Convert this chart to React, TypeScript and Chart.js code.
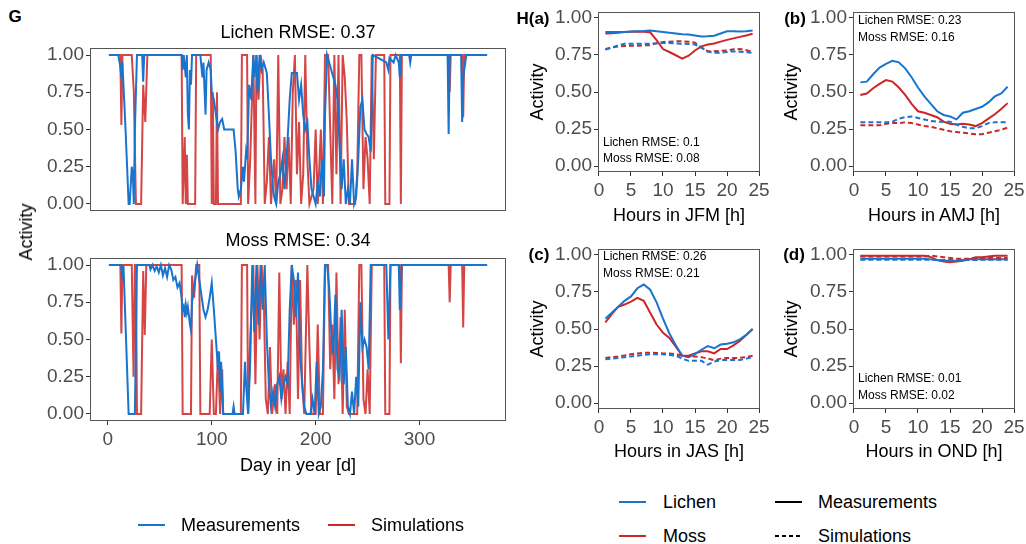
import React, { useEffect, useRef } from "react";
import { Chart, registerables } from "chart.js";
Chart.register(...registerables);

const FONT = "'Liberation Sans', Arial, Helvetica, sans-serif";
const BLUE = "#1874CD";
const RED = "#CD2626";
const RED_A = "rgba(205,38,38,0.85)";
const TICK_COLOR = "#4d4d4d";

// ---------- tick labels ----------
const activityTicks = [0, 0.25, 0.5, 0.75, 1];
const dayTicks = [0, 100, 200, 300];
const hourTicks = [0, 5, 10, 15, 20, 25];
const hours = [1, 2, 3, 4, 5, 6, 7, 8, 9, 10, 11, 12, 13, 14, 15, 16, 17, 18, 19, 20, 21, 22, 23, 24];

// ---------- daily series (G) : [day, activity] ----------
const lichenMeas: [number, number][] = [
  [1, 1], [10, 1], [12, 0.92], [13, 0.85], [14, 0.95], [15, 0.8], [17, 0.5], [20, 0], [21, 0], [23, 0.25], [24, 0.2], [25, 0], [26, 0.5], [28, 1],
  [33, 1], [34, 0.82], [35, 1], [71, 1], [72, 0.9], [73, 1], [75, 0.85], [76, 1], [77, 0.6], [78, 0.5], [79, 0.9], [80, 0.8], [81, 1], [89, 1],
  [91, 0.85], [92, 0.95], [94, 0.6], [95, 0.9], [97, 0.95], [99, 0.9], [100, 0.75], [102, 0.7], [104, 0.6], [106, 0.5], [108, 0.55], [110, 0.57],
  [112, 0.5], [121, 0.5], [123, 0.35], [125, 0.1], [126, 0.05], [128, 0.1], [130, 0.25], [131, 0.15], [133, 0.35], [134, 0.3], [136, 0.8],
  [138, 0.7], [140, 1], [141, 0.85], [143, 1], [144, 0.75], [146, 1], [148, 0.9], [150, 0.95], [153, 0.88], [155, 0.6], [157, 0.3], [159, 0.1],
  [160, 0.05], [162, 0.0], [164, 0.15], [166, 0.2], [168, 0.3], [170, 0.1], [172, 0.3], [175, 0.7], [177, 0.88], [179, 0.88], [182, 0.88],
  [184, 0.7], [186, 0.8], [188, 0.6], [190, 0.5], [192, 0.55], [194, 0.3], [196, 0.1], [198, 0.05], [200, 0.0], [202, 0.15], [204, 0.05],
  [206, 0.3], [208, 0.05], [209, 0.6], [211, 1], [213, 0.95], [215, 0.9], [217, 0.85], [219, 0.8], [221, 0.7], [223, 0.4], [225, 0.1],
  [227, 0.3], [229, 0.0], [231, 0.1], [233, 0.0], [235, 0.3], [237, 0.0], [239, 0.05], [241, 0.3], [243, 0.65], [245, 0.7], [247, 0.5],
  [249, 0.47], [251, 0.45], [253, 0.35], [255, 1], [268, 0.95], [270, 0.9], [271, 0.98], [275, 0.95], [277, 1], [280, 0.95], [281, 0.85],
  [282, 1], [290, 1], [291, 0.95], [292, 1], [327, 1], [328, 0.47], [329, 1], [340, 1], [341, 0.55], [342, 0.85], [344, 0.95], [345, 1], [365, 1],
];
const lichenSim: [number, number][] = [
  [1, 1], [12, 1], [13, 0.53], [14, 1], [23, 1], [25, 0.75], [27, 0], [32, 0], [34, 0.8], [36, 0.55], [38, 1], [71, 1], [72, 0], [74, 0.45],
  [75, 0], [76, 0.33], [77, 0], [84, 0], [85, 1], [99, 1], [100, 0], [101, 0.75], [102, 0], [104, 0], [105, 0.75], [106, 0], [128, 0],
  [129, 1], [134, 1], [135, 0], [137, 0.3], [140, 1], [142, 0], [143, 1], [145, 0.7], [147, 1], [149, 0.9], [151, 0], [153, 0.15], [155, 0.45],
  [157, 0.0], [160, 0.3], [162, 0], [164, 1], [166, 0], [168, 0.1], [170, 0.45], [172, 0.1], [174, 0.45], [176, 0], [178, 0.75], [180, 1],
  [182, 0.2], [184, 0.55], [186, 0], [188, 0.2], [190, 1], [192, 0.3], [194, 0], [198, 0.1], [200, 0.5], [202, 0], [205, 0.5], [207, 0],
  [209, 1], [212, 1], [214, 0.5], [216, 0], [218, 1], [220, 0.2], [222, 1], [224, 0], [226, 1], [228, 0.85], [230, 0.55], [232, 0], [238, 0],
  [240, 0.2], [242, 1], [244, 1], [246, 0.1], [248, 0.45], [250, 0.3], [252, 0], [254, 1], [256, 0.3], [258, 1], [266, 1], [267, 0], [271, 0],
  [272, 1], [281, 1], [282, 0], [283, 1], [328, 1], [329, 0.75], [330, 1], [341, 1], [342, 0.58], [343, 1], [365, 1],
];
const mossMeas: [number, number][] = [
  [1, 1], [13, 1], [14, 0.9], [15, 1], [17, 0.6], [20, 0], [26, 0], [28, 1], [40, 1], [41, 0.97], [43, 1], [45, 0.96], [47, 0.99], [49, 0.95],
  [51, 1], [53, 0.93], [55, 0.98], [57, 0.92], [59, 1], [61, 0.97], [63, 0.9], [65, 0.92], [67, 0.85], [69, 0.88], [71, 0.78], [72, 0.7],
  [73, 0.72], [74, 0.65], [75, 0.73], [76, 0.68], [77, 0.72], [79, 0.6], [80, 0.56], [81, 0.75], [83, 0.85], [86, 1], [88, 0.9], [90, 0.8],
  [92, 0.7], [94, 0.65], [96, 0.7], [98, 0.78], [100, 0.88], [102, 0.7], [104, 0.5], [106, 0.3], [107, 0.42], [108, 0.15], [109, 0.35],
  [111, 0], [120, 0], [121, 0.05], [122, 0], [130, 0], [132, 0.35], [133, 0.2], [135, 0], [137, 0.35], [139, 1], [141, 0.55], [143, 1],
  [145, 0.6], [147, 1], [149, 0.7], [151, 1], [153, 0.5], [155, 0.2], [157, 0.05], [159, 0.15], [161, 0.05], [163, 0.2], [165, 0.25],
  [167, 0.1], [169, 0.2], [171, 0.25], [173, 0.2], [175, 0.7], [177, 1], [179, 0.9], [181, 0.65], [183, 0.95], [185, 0.4], [187, 0.2],
  [189, 0.05], [191, 0], [195, 0], [197, 0.1], [199, 0], [201, 0.35], [203, 0], [205, 0.05], [207, 0.3], [209, 1], [211, 1], [213, 0.85],
  [215, 0.55], [217, 0.4], [219, 0.8], [221, 0.3], [223, 0.25], [225, 0.7], [227, 0.2], [229, 0.45], [231, 0.05], [233, 0.0], [235, 0.15],
  [237, 0], [239, 0.25], [241, 0.05], [243, 0.75], [245, 0.45], [247, 0.5], [249, 0.45], [251, 0.3], [253, 1], [268, 1], [270, 0.5],
  [272, 1], [280, 1], [281, 0.7], [283, 1], [365, 1],
];
const mossSim: [number, number][] = [
  [1, 1], [12, 1], [13, 0.54], [14, 1], [23, 1], [24.7, 0.25], [26, 1], [27, 1], [28, 0], [32, 0], [34, 0.96], [35.5, 0.53], [37, 1],
  [71, 1], [72, 0], [80, 0], [81, 0.93], [83, 0.78], [85, 1], [88, 1], [89, 0], [98, 0], [100, 0.5], [102, 0], [104, 0], [106, 0.42],
  [108, 0], [110, 0.3], [111, 0], [128, 0], [129, 1], [134, 1], [135, 0], [137, 0.5], [140, 1], [142, 0.2], [144, 1], [146, 0.5], [148, 1],
  [150, 0.8], [152, 0.1], [154, 0], [156, 0.45], [158, 0], [161, 0.2], [163, 0], [165, 0.95], [167, 0.1], [169, 0.3], [171, 0], [173, 0.35],
  [175, 0], [177, 1], [179, 0.6], [181, 0.9], [183, 0.1], [185, 0.9], [187, 0.2], [189, 0], [192, 1], [194, 0.45], [196, 0], [200, 0],
  [202, 0.6], [204, 0], [207, 0], [209, 1], [212, 1], [214, 0.3], [216, 0.6], [218, 0.1], [220, 0.95], [222, 0.2], [224, 0.65], [226, 0],
  [228, 0.7], [230, 0.05], [232, 0], [240, 0], [242, 1], [244, 1], [246, 0.1], [248, 0], [250, 0.3], [252, 0], [254, 1], [266, 1], [267, 0],
  [271, 0], [272, 1], [281, 1], [282, 0.34], [283, 1], [328, 1], [329, 0.75], [330, 1], [341, 1], [342, 0.58], [343, 1], [365, 1],
];

// ---------- hourly series (H) ----------
const lichenMeasJFM = [0.905, 0.905, 0.905, 0.905, 0.908, 0.91, 0.912, 0.915, 0.91, 0.905, 0.9, 0.895, 0.89, 0.888, 0.882, 0.875, 0.877, 0.88, 0.895, 0.91, 0.91, 0.908, 0.91, 0.915];
const mossMeasJFM = [0.895, 0.897, 0.9, 0.905, 0.907, 0.908, 0.907, 0.903, 0.85, 0.79, 0.77, 0.748, 0.725, 0.745, 0.78, 0.808, 0.82, 0.828, 0.84, 0.852, 0.862, 0.872, 0.882, 0.893];
const lichenSimJFM = [0.79, 0.8, 0.815, 0.825, 0.825, 0.825, 0.825, 0.826, 0.828, 0.83, 0.83, 0.828, 0.826, 0.824, 0.82, 0.8, 0.772, 0.765, 0.765, 0.77, 0.775, 0.772, 0.768, 0.765];
const mossSimJFM = [0.787, 0.8, 0.808, 0.81, 0.812, 0.812, 0.815, 0.815, 0.83, 0.838, 0.84, 0.842, 0.842, 0.84, 0.832, 0.8, 0.775, 0.775, 0.778, 0.78, 0.788, 0.79, 0.782, 0.772];

const lichenMeasAMJ = [0.565, 0.57, 0.62, 0.665, 0.69, 0.71, 0.7, 0.66, 0.6, 0.53, 0.47, 0.42, 0.37, 0.345, 0.335, 0.315, 0.36, 0.37, 0.385, 0.4, 0.43, 0.47, 0.49, 0.535];
const mossMeasAMJ = [0.48, 0.49, 0.525, 0.555, 0.58, 0.57, 0.53, 0.48, 0.42, 0.37, 0.36, 0.345, 0.33, 0.3, 0.285, 0.28, 0.285, 0.28, 0.27, 0.29, 0.32, 0.35, 0.385, 0.425];
const lichenSimAMJ = [0.295, 0.295, 0.295, 0.295, 0.295, 0.3, 0.32, 0.33, 0.335, 0.325, 0.315, 0.305, 0.3, 0.3, 0.3, 0.28, 0.265, 0.255, 0.255, 0.27, 0.29, 0.295, 0.295, 0.295];
const mossSimAMJ = [0.275, 0.275, 0.275, 0.275, 0.285, 0.29, 0.29, 0.295, 0.29, 0.28, 0.27, 0.265, 0.255, 0.245, 0.235, 0.23, 0.225, 0.22, 0.215, 0.215, 0.225, 0.235, 0.245, 0.26];

const lichenMeasJAS = [0.57, 0.61, 0.65, 0.69, 0.72, 0.775, 0.8, 0.765, 0.68, 0.57, 0.47, 0.39, 0.32, 0.31, 0.33, 0.36, 0.385, 0.37, 0.395, 0.4, 0.41, 0.43, 0.46, 0.5];
const mossMeasJAS = [0.545, 0.6, 0.65, 0.665, 0.685, 0.71, 0.69, 0.61, 0.53, 0.475, 0.44, 0.38, 0.32, 0.32, 0.335, 0.35, 0.35, 0.335, 0.365, 0.365, 0.39, 0.42, 0.46, 0.5];
const lichenSimJAS = [0.295, 0.3, 0.305, 0.31, 0.315, 0.32, 0.325, 0.33, 0.33, 0.33, 0.325, 0.32, 0.3, 0.285, 0.285, 0.285, 0.26, 0.28, 0.29, 0.29, 0.29, 0.29, 0.3, 0.31];
const mossSimJAS = [0.305, 0.31, 0.315, 0.322, 0.33, 0.335, 0.34, 0.34, 0.338, 0.335, 0.335, 0.33, 0.32, 0.315, 0.315, 0.31, 0.3, 0.29, 0.3, 0.305, 0.305, 0.305, 0.31, 0.32];

const lichenMeasOND = [0.975, 0.975, 0.975, 0.975, 0.975, 0.975, 0.975, 0.975, 0.975, 0.975, 0.975, 0.97, 0.965, 0.96, 0.96, 0.96, 0.965, 0.97, 0.97, 0.97, 0.97, 0.97, 0.97, 0.97];
const mossMeasOND = [0.995, 0.995, 0.995, 0.995, 0.995, 0.995, 0.995, 0.995, 0.995, 0.995, 0.995, 0.985, 0.965, 0.955, 0.95, 0.955, 0.96, 0.97, 0.985, 0.985, 0.99, 0.995, 0.995, 0.995];
const lichenSimOND = [0.968, 0.968, 0.968, 0.968, 0.968, 0.968, 0.968, 0.968, 0.968, 0.968, 0.968, 0.968, 0.965, 0.965, 0.965, 0.965, 0.965, 0.965, 0.965, 0.968, 0.968, 0.968, 0.968, 0.968];
const mossSimOND = [0.99, 0.99, 0.99, 0.99, 0.99, 0.99, 0.99, 0.99, 0.99, 0.99, 0.99, 0.995, 0.99, 0.985, 0.98, 0.975, 0.975, 0.975, 0.98, 0.98, 0.98, 0.98, 0.98, 0.98];

// ---------- layout ----------
type Box = { x: number; y: number; w: number; h: number };
type Pad = { l: number; r: number; t: number; b: number };

const boxPlugin = {
  id: "panelBox",
  afterDatasetsDraw(chart: any) {
    const { ctx, chartArea: a } = chart;
    ctx.save();
    ctx.strokeStyle = "#555555";
    ctx.lineWidth = 1;
    ctx.strokeRect(a.left + 0.5, a.top + 0.5, a.right - a.left - 1, a.bottom - a.top - 1);
    ctx.restore();
  },
};

function makeX(min: number, max: number, ticks: number[], show: boolean, padB: number) {
  return {
    type: "linear",
    min,
    max,
    afterBuildTicks: (s: any) => {
      s.ticks = ticks.map((v) => ({ value: v }));
    },
    afterFit: (s: any) => {
      s.height = padB;
    },
    grid: { display: show, drawOnChartArea: false, drawTicks: true, tickLength: 4, color: "#333333", lineWidth: 1 },
    border: { display: false },
    ticks: {
      display: show,
      autoSkip: false,
      maxRotation: 0,
      padding: 3,
      color: TICK_COLOR,
      font: { family: FONT, size: 19 },
      callback: (v: any) => String(v),
    },
  };
}

function makeY(min: number, max: number, padL: number) {
  return {
    type: "linear",
    min,
    max,
    afterBuildTicks: (s: any) => {
      s.ticks = activityTicks.map((v) => ({ value: v }));
    },
    afterFit: (s: any) => {
      s.width = padL;
    },
    grid: { display: true, drawOnChartArea: false, drawTicks: true, tickLength: 4, color: "#333333", lineWidth: 1 },
    border: { display: false },
    ticks: {
      padding: 2,
      color: TICK_COLOR,
      font: { family: FONT, size: 19 },
      callback: (v: any) => Number(v).toFixed(2),
    },
  };
}

function PanelChart({ box, pad, config }: { box: Box; pad: Pad; config: () => any }) {
  const ref = useRef<HTMLCanvasElement>(null);
  useEffect(() => {
    const chart = new Chart(ref.current as HTMLCanvasElement, config());
    return () => chart.destroy();
  }, []);
  const W = box.w + pad.l + pad.r;
  const H = box.h + pad.t + pad.b;
  return (
    <canvas
      ref={ref}
      width={W}
      height={H}
      style={{ position: "absolute", left: box.x - pad.l, top: box.y - pad.t, width: W, height: H }}
    />
  );
}

function dailyConfig(meas: [number, number][], sim: [number, number][], showX: boolean, pad: Pad) {
  return () => ({
    type: "line",
    data: {
      datasets: [
        { label: "Measurements", data: meas.map(([x, y]) => ({ x, y })), borderColor: BLUE, borderWidth: 2, pointRadius: 0, tension: 0 },
        { label: "Simulations", data: sim.map(([x, y]) => ({ x, y })), borderColor: RED_A, borderWidth: 2, pointRadius: 0, tension: 0 },
      ],
    },
    options: {
      animation: false,
      responsive: false,
      events: [],
      layout: { padding: { top: pad.t, right: pad.r, left: 0, bottom: 0 } },
      plugins: { legend: { display: false }, tooltip: { enabled: false }, title: { display: false } },
      scales: {
        x: makeX(-17.2, 383.2, dayTicks, showX, pad.b),
        y: makeY(-0.047, 1.047, pad.l),
      },
    },
    plugins: [boxPlugin],
  });
}

function hourlyConfig(lm: number[], mm: number[], ls: number[], ms: number[], pad: Pad) {
  const pts = (arr: number[]) => arr.map((v, i) => ({ x: hours[i], y: v }));
  const common = { pointRadius: 0, tension: 0, borderWidth: 2 };
  return () => ({
    type: "line",
    data: {
      datasets: [
        { label: "Lichen sim", data: pts(ls), borderColor: BLUE, borderDash: [5, 3], ...common },
        { label: "Moss sim", data: pts(ms), borderColor: RED, borderDash: [5, 3], ...common },
        { label: "Lichen meas", data: pts(lm), borderColor: BLUE, ...common },
        { label: "Moss meas", data: pts(mm), borderColor: RED, ...common },
      ],
    },
    options: {
      animation: false,
      responsive: false,
      events: [],
      layout: { padding: { top: pad.t, right: pad.r, left: 0, bottom: 0 } },
      plugins: { legend: { display: false }, tooltip: { enabled: false }, title: { display: false } },
      scales: {
        x: makeX(-0.15, 25.15, hourTicks, true, pad.b),
        y: makeY(-0.04, 1.04, pad.l),
      },
    },
    plugins: [boxPlugin],
  });
}

function Txt(props: {
  x: number; y: number; children: React.ReactNode; size?: number; weight?: string | number;
  anchor?: "start" | "middle"; rotate?: number; color?: string;
}) {
  const { x, y, children, size = 18, weight = "normal", anchor = "middle", rotate = 0, color = "#000" } = props;
  const tx = anchor === "start" ? "0" : "-50%";
  return (
    <div
      style={{
        position: "absolute",
        left: x,
        top: y,
        transform: `translate(${tx},-50%)${rotate ? ` rotate(${rotate}deg)` : ""}`,
        fontSize: size,
        fontWeight: weight as any,
        fontFamily: FONT,
        color,
        whiteSpace: "nowrap",
        lineHeight: 1,
      }}
    >
      {children}
    </div>
  );
}

function Key({ x, y, color, dashed }: { x: number; y: number; color: string; dashed?: boolean }) {
  return (
    <div
      style={{
        position: "absolute",
        left: x,
        top: y - 1.25,
        width: 27,
        height: 2.5,
        background: dashed ? `repeating-linear-gradient(to right, ${color} 0 4px, transparent 4px 7px)` : color,
      }}
    />
  );
}

const leftPad: Pad = { l: 60, r: 24, t: 14, b: 40 };
const rightPad: Pad = { l: 55, r: 14, t: 14, b: 40 };

const boxG1: Box = { x: 90, y: 48, w: 416, h: 163 };
const boxG2: Box = { x: 90, y: 258, w: 416, h: 163 };
const boxA: Box = { x: 598, y: 12, w: 162, h: 160 };
const boxB: Box = { x: 853, y: 12, w: 162, h: 160 };
const boxC: Box = { x: 598, y: 249, w: 162, h: 160 };
const boxD: Box = { x: 853, y: 249, w: 162, h: 160 };

export default function App() {
  return (
    <div style={{ position: "fixed", left: 0, top: 0, width: 1026, height: 544, background: "#fff", overflow: "hidden" }}>
      <PanelChart box={boxG1} pad={leftPad} config={dailyConfig(lichenMeas, lichenSim, false, leftPad)} />
      <PanelChart box={boxG2} pad={leftPad} config={dailyConfig(mossMeas, mossSim, true, leftPad)} />
      <PanelChart box={boxA} pad={rightPad} config={hourlyConfig(lichenMeasJFM, mossMeasJFM, lichenSimJFM, mossSimJFM, rightPad)} />
      <PanelChart box={boxB} pad={rightPad} config={hourlyConfig(lichenMeasAMJ, mossMeasAMJ, lichenSimAMJ, mossSimAMJ, rightPad)} />
      <PanelChart box={boxC} pad={rightPad} config={hourlyConfig(lichenMeasJAS, mossMeasJAS, lichenSimJAS, mossSimJAS, rightPad)} />
      <PanelChart box={boxD} pad={rightPad} config={hourlyConfig(lichenMeasOND, mossMeasOND, lichenSimOND, mossSimOND, rightPad)} />

      {/* G panel texts */}
      <Txt x={15} y={16} size={17} weight="bold">G</Txt>
      <Txt x={298} y={32}>Lichen RMSE: 0.37</Txt>
      <Txt x={298} y={240}>Moss RMSE: 0.34</Txt>
      <Txt x={26} y={232} rotate={-90}>Activity</Txt>
      <Txt x={298} y={465}>Day in year [d]</Txt>

      {/* H panel texts */}
      <Txt x={533} y={18} size={17} weight="bold">H(a)</Txt>
      <Txt x={795} y={18} size={17} weight="bold">(b)</Txt>
      <Txt x={539} y={254} size={17} weight="bold">(c)</Txt>
      <Txt x={794} y={254} size={17} weight="bold">(d)</Txt>
      <Txt x={537} y={92} rotate={-90}>Activity</Txt>
      <Txt x={791} y={92} rotate={-90}>Activity</Txt>
      <Txt x={537} y={329} rotate={-90}>Activity</Txt>
      <Txt x={791} y={329} rotate={-90}>Activity</Txt>
      <Txt x={679} y={215}>Hours in JFM [h]</Txt>
      <Txt x={934} y={215}>Hours in AMJ [h]</Txt>
      <Txt x={679} y={451}>Hours in JAS [h]</Txt>
      <Txt x={934} y={451}>Hours in OND [h]</Txt>

      <Txt x={603} y={142} size={12} anchor="start">Lichen RMSE: 0.1</Txt>
      <Txt x={603} y={158} size={12} anchor="start">Moss RMSE: 0.08</Txt>
      <Txt x={858} y={20} size={12} anchor="start">Lichen RMSE: 0.23</Txt>
      <Txt x={858} y={37} size={12} anchor="start">Moss RMSE: 0.16</Txt>
      <Txt x={603} y={256} size={12} anchor="start">Lichen RMSE: 0.26</Txt>
      <Txt x={603} y={273} size={12} anchor="start">Moss RMSE: 0.21</Txt>
      <Txt x={858} y={378} size={12} anchor="start">Lichen RMSE: 0.01</Txt>
      <Txt x={858} y={395} size={12} anchor="start">Moss RMSE: 0.02</Txt>

      {/* legends */}
      <Key x={138} y={525} color={BLUE} />
      <Txt x={181} y={525} anchor="start">Measurements</Txt>
      <Key x={328} y={525} color={RED} />
      <Txt x={371} y={525} anchor="start">Simulations</Txt>

      <Key x={619} y={502} color={BLUE} />
      <Txt x={663} y={502} anchor="start">Lichen</Txt>
      <Key x={619} y={536} color={RED} />
      <Txt x={663} y={536} anchor="start">Moss</Txt>
      <Key x={775} y={502} color="#000" />
      <Txt x={818} y={502} anchor="start">Measurements</Txt>
      <Key x={775} y={536} color="#000" dashed />
      <Txt x={818} y={536} anchor="start">Simulations</Txt>
    </div>
  );
}
